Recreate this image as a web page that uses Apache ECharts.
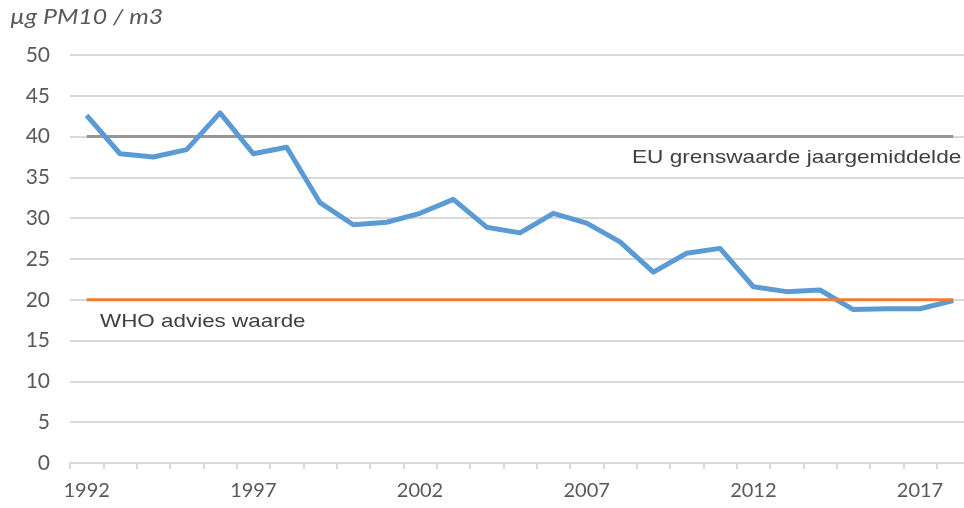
<!DOCTYPE html>
<html>
<head>
<meta charset="utf-8">
<script src="https://cdn.jsdelivr.net/npm/echarts@6/dist/echarts.min.js"></script>
<style>
  html, body { margin: 0; padding: 0; background: #fff; overflow: hidden; }
  #main { width: 970px; height: 508px; }
</style>
</head>
<body>
<div id="main"></div>
<script>
  // jaren
  var years = [];
  for (var y = 1992; y <= 2018; y++) years.push(String(y));

  // jaargemiddelde PM10 (ug/m3)
  var pm10 = [42.6, 37.9, 37.5, 38.4, 42.9, 37.9, 38.7, 31.9, 29.2, 29.5,
              30.6, 32.3, 28.9, 28.2, 30.6, 29.4, 27.1, 23.4, 25.7, 26.3,
              21.6, 21.0, 21.2, 18.8, 18.9, 18.9, 19.9];

  var euLimit = 40;
  var whoAdvice = 20;
  var euLine = years.map(function () { return euLimit; });
  var whoLine = years.map(function () { return whoAdvice; });

  // plot loopt in het origineel net voorbij de rechterrand, daarom is de div iets breder
  var myChart = echarts.init(document.getElementById('main'));
  var option = {
    animation: false,
    grid: { left: 70, top: 55, right: 0, bottom: 45, containLabel: false },
    xAxis: {
      type: 'category',
      data: years,
      boundaryGap: true,
      axisLine: { lineStyle: { color: '#d9d9d9', width: 2 } },
      axisTick: { show: true, interval: 0, length: 6, lineStyle: { color: '#d9d9d9', width: 2 } },
      axisLabel: {
        interval: 4,
        margin: 18,
        color: '#595959',
        fontSize: 20,
        fontFamily: 'Lato'
      },
      splitLine: { show: false }
    },
    yAxis: {
      type: 'value',
      min: 0,
      max: 50,
      interval: 5,
      axisLine: { show: false },
      axisTick: { show: false },
      axisLabel: { margin: 20, color: '#595959', fontSize: 21, fontFamily: 'Lato' },
      splitLine: { lineStyle: { color: '#d9d9d9', width: 2 } }
    },
    series: [
      {
        name: 'EU grenswaarde',
        type: 'line',
        data: euLine,
        symbol: 'none',
        lineStyle: { color: '#979797', width: 3 },
        z: 2
      },
      {
        name: 'WHO advies',
        type: 'line',
        data: whoLine,
        symbol: 'none',
        lineStyle: { color: '#ed7d31', width: 3 },
        z: 4
      },
      {
        name: 'PM10',
        type: 'line',
        data: pm10,
        symbol: 'none',
        lineStyle: { color: '#5b9bd5', width: 5, join: 'round' },
        z: 3
      }
    ],
    graphic: [
      {
        type: 'text', x: 10, y: 6, scaleX: 1.13,
        style: { text: 'µg PM10 / m3', fill: '#595959', font: 'italic 22px Lato' }
      },
      {
        type: 'text', x: 632, y: 148, scaleX: 1.19,
        style: { text: 'EU grenswaarde jaargemiddelde', fill: '#404040', font: '19px "Liberation Sans"' }
      },
      {
        type: 'text', x: 100, y: 312, scaleX: 1.18,
        style: { text: 'WHO advies waarde', fill: '#404040', font: '19px "Liberation Sans"' }
      }
    ]
  };
  myChart.setOption(option);
</script>
</body>
</html>
